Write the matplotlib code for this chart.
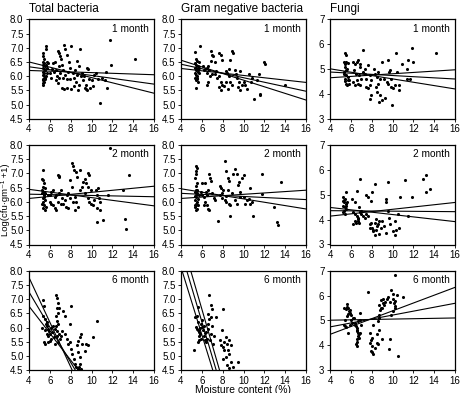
import numpy as np
import matplotlib
matplotlib.use('Agg')
import matplotlib.pyplot as plt

plt.rcParams['font.family'] = ['Liberation Sans', 'DejaVu Sans']

# ---------------------------------------------------------------------------
# DATA  (moisture %, log cfu)
# ---------------------------------------------------------------------------
tb_1m = [(5.3, 6.8), (5.35, 6.7), (5.4, 6.6), (5.3, 6.5), (5.45, 6.45), (5.35, 6.4), (5.5, 6.35),
         (5.3, 6.3), (5.4, 6.25), (5.5, 6.2), (5.35, 6.15), (5.45, 6.1), (5.3, 6.05), (5.4, 6.0),
         (5.5, 5.95), (5.35, 5.9), (5.3, 5.85), (5.4, 5.8), (5.35, 5.75), (5.3, 5.7), (5.6, 6.95),
         (5.65, 7.05), (5.7, 6.5), (5.6, 6.4), (5.75, 6.3), (5.55, 6.2), (5.7, 6.1), (5.6, 6.0),
         (5.8, 6.45), (5.5, 5.9), (6.0, 6.1), (6.1, 5.95), (6.2, 6.25), (6.3, 6.45), (6.4, 6.15),
         (6.5, 6.5), (6.6, 5.85), (6.6, 6.2), (6.8, 6.9), (6.9, 6.8), (7.0, 6.7), (6.7, 6.0),
         (6.9, 6.35), (7.0, 6.1), (6.8, 5.75), (6.9, 5.95), (7.1, 6.6), (7.2, 6.4), (7.3, 6.2),
         (7.4, 7.1), (7.5, 6.95), (7.6, 6.75), (7.3, 5.95), (7.5, 6.05), (7.6, 5.9), (7.2, 5.6),
         (7.4, 5.55), (7.6, 5.6), (7.8, 6.5), (7.9, 6.3), (8.0, 7.05), (7.7, 6.15), (7.9, 5.9),
         (8.0, 5.55), (8.2, 6.1), (8.3, 5.95), (8.4, 6.2), (8.5, 5.8), (8.6, 6.55), (8.7, 5.5),
         (8.8, 6.35), (8.9, 6.95), (8.95, 6.0), (8.8, 5.7), (8.6, 6.05), (8.3, 5.65), (9.1, 6.1),
         (9.2, 5.85), (9.4, 5.6), (9.5, 5.55), (9.6, 6.3), (9.7, 6.25), (9.5, 5.7), (9.8, 5.9),
         (9.9, 5.6), (9.6, 5.5), (10.0, 5.85), (10.1, 5.65), (9.3, 6.0), (10.2, 6.05), (10.4, 6.1),
         (10.6, 5.9), (10.8, 5.05), (11.0, 5.95), (11.3, 5.85), (11.4, 6.15), (11.5, 5.6),
         (11.75, 7.27), (11.9, 6.4), (14.15, 6.6)]

gn_1m = [(5.4, 6.62), (5.5, 6.55), (5.3, 6.45), (5.45, 6.4), (5.6, 6.35), (5.35, 6.3), (5.5, 6.25),
         (5.4, 6.2), (5.6, 6.15), (5.3, 6.1), (5.45, 6.05), (5.55, 6.0), (5.35, 5.95), (5.5, 5.9),
         (5.4, 5.85), (5.6, 5.8), (5.3, 6.85), (5.7, 6.5), (5.65, 6.2), (5.75, 6.1), (5.8, 7.05),
         (5.4, 5.6), (5.7, 6.3), (5.55, 5.95), (6.1, 6.37), (6.3, 6.25), (6.45, 6.12), (6.6, 6.37),
         (6.7, 6.2), (6.85, 6.87), (7.0, 6.75), (7.1, 6.7), (6.9, 6.55), (6.45, 5.69), (6.6, 5.81),
         (6.8, 6.0), (6.95, 6.06), (6.2, 6.2), (6.5, 6.3), (7.3, 6.5), (7.6, 6.81), (7.8, 6.75),
         (7.9, 6.56), (7.4, 6.19), (7.6, 6.0), (7.3, 6.06), (7.45, 5.94), (7.8, 5.81), (7.95, 5.69),
         (7.6, 5.62), (7.8, 5.52), (8.3, 6.19), (8.45, 6.12), (8.6, 6.25), (8.75, 6.56), (8.9, 6.87),
         (9.0, 6.81), (8.6, 6.0), (8.75, 5.81), (8.3, 5.81), (8.1, 5.65), (8.55, 5.56), (8.9, 5.69),
         (9.25, 6.06), (9.4, 5.94), (9.55, 5.81), (9.7, 6.19), (9.85, 5.69), (9.45, 5.62), (9.7, 5.5),
         (10.0, 5.81), (10.15, 5.69), (9.2, 6.2), (10.35, 5.56), (10.7, 5.81), (10.8, 5.94),
         (10.5, 6.06), (11.0, 5.19), (11.3, 5.87), (11.5, 6.06), (11.55, 5.37), (11.6, 5.33),
         (12.0, 6.5), (12.1, 6.44), (14.0, 5.69)]

fu_1m = [(5.4, 5.63), (5.5, 5.56), (5.35, 5.29), (5.55, 5.29), (5.7, 5.25), (5.4, 5.09), (5.5, 4.95),
         (5.35, 4.89), (5.55, 4.75), (5.4, 4.62), (5.7, 4.55), (5.5, 4.41), (5.6, 4.35), (5.85, 4.55),
         (5.8, 4.41), (5.3, 4.8), (5.45, 5.2), (5.6, 5.0), (5.75, 4.7), (5.4, 4.5), (6.25, 5.29),
         (6.4, 5.22), (6.55, 5.29), (6.7, 5.36), (6.85, 5.22), (6.25, 4.48), (6.4, 4.35), (6.55, 4.55),
         (6.7, 4.41), (6.85, 4.35), (6.8, 4.75), (6.5, 4.82), (7.0, 4.62), (7.2, 5.76), (6.9, 5.1),
         (6.3, 4.95), (7.2, 4.89), (7.35, 4.82), (7.5, 4.62), (7.65, 5.15), (7.5, 4.28), (7.65, 4.22),
         (7.8, 4.35), (7.95, 4.55), (7.9, 3.94), (7.85, 3.81), (7.4, 5.0), (7.8, 4.75), (8.2, 5.02),
         (8.35, 4.82), (8.5, 4.69), (8.65, 4.89), (8.8, 4.62), (8.4, 4.28), (8.55, 4.08), (8.75, 3.67),
         (8.95, 3.74), (8.8, 3.94), (8.95, 5.29), (8.6, 4.4), (9.3, 3.82), (9.45, 4.48), (9.6, 4.41),
         (9.7, 4.89), (9.75, 4.95), (9.6, 5.36), (9.9, 4.62), (9.9, 4.28), (10.05, 4.22), (9.95, 3.54),
         (9.2, 4.6), (10.2, 4.35), (10.35, 5.63), (10.4, 4.89), (10.6, 4.15), (10.65, 4.35),
         (10.9, 5.22), (11.35, 5.02), (11.5, 5.38), (11.7, 4.62), (11.85, 5.83), (12.0, 5.29),
         (11.4, 4.6), (14.2, 5.65)]

tb_2m = [(5.3, 7.12), (5.2, 6.82), (5.35, 6.77), (5.45, 6.65), (5.3, 6.53), (5.5, 6.47), (5.35, 6.35),
         (5.2, 6.3), (5.45, 6.24), (5.3, 6.12), (5.55, 6.06), (5.35, 6.0), (5.2, 5.94), (5.45, 5.88),
         (5.6, 5.82), (5.35, 5.77), (5.5, 5.7), (5.4, 6.18), (5.25, 6.4), (5.55, 6.3), (5.85, 6.24),
         (6.0, 6.24), (6.15, 6.35), (6.3, 6.41), (6.45, 6.18), (6.6, 6.24), (6.0, 6.0), (6.15, 5.94),
         (6.3, 5.88), (6.45, 5.77), (6.6, 5.7), (6.75, 6.94), (6.85, 6.88), (6.9, 6.91), (7.05, 6.41),
         (6.9, 6.3), (6.75, 6.0), (7.05, 5.94), (7.15, 6.14), (7.3, 5.94), (7.45, 6.06), (7.6, 6.24),
         (7.75, 6.3), (7.9, 6.12), (7.55, 5.82), (7.7, 5.77), (8.1, 6.53), (7.95, 6.77), (8.1, 7.35),
         (8.2, 7.25), (8.3, 7.12), (8.5, 7.06), (8.6, 6.88), (8.4, 6.18), (8.55, 6.0), (8.7, 5.82),
         (8.4, 5.7), (8.25, 6.0), (8.9, 6.41), (9.05, 6.53), (9.15, 6.7), (8.9, 7.12), (9.35, 6.82),
         (9.5, 6.65), (9.65, 6.53), (9.8, 6.94), (9.95, 6.41), (9.4, 6.3), (9.65, 6.12), (9.8, 6.0),
         (9.95, 5.94), (10.1, 5.88), (10.25, 6.06), (9.7, 7.0), (10.4, 6.41), (10.55, 6.24),
         (10.7, 6.12), (10.55, 5.77), (10.85, 6.0), (10.5, 5.3), (10.8, 5.7), (11.1, 5.36),
         (10.65, 6.47), (11.75, 7.9), (11.6, 6.24), (13.0, 6.41), (13.2, 5.4), (13.3, 5.04), (13.6, 6.95)]

gn_2m = [(5.45, 7.27), (5.5, 7.18), (5.4, 7.09), (5.45, 6.97), (5.35, 6.85), (5.5, 6.67), (5.4, 6.55),
         (5.45, 6.42), (5.3, 6.36), (5.55, 6.3), (5.4, 6.24), (5.45, 6.18), (5.35, 6.06), (5.5, 6.0),
         (5.4, 5.94), (5.45, 5.88), (5.35, 5.82), (5.5, 5.76), (5.4, 5.7), (5.6, 6.1), (5.3, 6.2),
         (5.55, 6.4), (5.6, 5.9), (5.3, 5.9), (5.75, 6.24), (5.9, 6.36), (6.05, 6.24), (6.2, 6.18),
         (6.35, 6.67), (6.4, 6.36), (6.5, 6.24), (6.6, 6.42), (6.7, 6.97), (6.75, 6.85), (6.85, 6.73),
         (6.35, 6.0), (6.5, 5.88), (6.6, 5.76), (6.7, 5.7), (6.05, 6.67), (6.2, 5.88), (7.0, 6.3),
         (7.15, 6.12), (7.3, 6.06), (7.55, 5.33), (7.7, 6.55), (7.85, 6.5), (7.7, 6.24), (7.95, 6.3),
         (8.05, 6.42), (7.95, 6.15), (8.2, 7.45), (8.35, 7.09), (8.5, 6.85), (8.65, 6.73), (8.5, 6.42),
         (8.2, 6.06), (8.35, 6.0), (8.6, 5.94), (8.75, 5.88), (8.85, 6.3), (8.7, 5.51), (8.95, 6.97),
         (8.3, 6.2), (9.2, 7.15), (9.35, 6.97), (9.5, 6.61), (9.65, 6.36), (9.2, 6.06), (9.35, 5.94),
         (9.7, 6.18), (9.85, 6.85), (10.0, 6.94), (9.6, 6.7), (10.0, 6.18), (10.15, 5.94), (10.3, 6.06),
         (10.65, 6.48), (10.65, 5.94), (10.8, 6.0), (10.95, 5.51), (10.5, 6.1), (11.8, 6.97),
         (11.8, 6.27), (12.9, 5.81), (13.2, 5.3), (13.3, 5.17), (13.6, 6.69)]

fu_2m = [(5.5, 5.1), (5.25, 4.9), (5.4, 4.83), (5.2, 4.76), (5.35, 4.7), (5.5, 4.63), (5.25, 4.56),
         (5.4, 4.49), (5.5, 4.42), (5.35, 4.36), (5.25, 4.29), (5.45, 4.22), (5.65, 4.7), (5.3, 4.8),
         (5.55, 4.55), (6.1, 4.83), (6.25, 4.29), (6.4, 4.22), (6.55, 4.15), (6.7, 4.08), (6.85, 4.29),
         (6.7, 4.02), (6.4, 3.95), (6.25, 3.81), (6.5, 3.88), (6.7, 3.95), (6.8, 3.88), (6.9, 5.64),
         (6.6, 5.17), (6.4, 4.69), (6.8, 4.49), (7.0, 4.22), (7.2, 4.15), (6.95, 4.35), (7.35, 4.08),
         (7.5, 4.22), (7.65, 4.15), (7.8, 3.81), (7.95, 3.88), (7.85, 3.68), (7.5, 4.97), (7.95, 4.76),
         (8.05, 5.1), (7.65, 4.9), (8.0, 3.68), (8.15, 3.54), (8.3, 3.4), (8.45, 3.6), (8.6, 3.81),
         (8.3, 3.88), (8.4, 4.02), (8.5, 3.74), (8.75, 3.95), (8.9, 3.68), (8.7, 3.43), (8.3, 5.44),
         (8.1, 3.6), (9.0, 3.95), (9.2, 3.74), (9.35, 3.47), (9.4, 4.69), (9.6, 4.36), (9.6, 5.51),
         (9.4, 4.83), (9.8, 3.81), (9.65, 4.08), (10.0, 3.54), (10.2, 3.95), (10.3, 3.6), (10.5, 4.22),
         (10.7, 4.9), (10.2, 3.38), (10.6, 3.66), (11.2, 5.58), (11.5, 4.15), (11.85, 4.9),
         (12.95, 5.64), (13.2, 5.78), (13.2, 5.1), (13.6, 5.24)]

tb_6m = [(5.37, 6.98), (5.45, 6.75), (5.3, 6.41), (5.2, 6.0), (5.5, 6.3), (5.6, 6.13), (5.7, 6.07),
         (5.75, 6.18), (5.85, 5.95), (5.55, 5.9), (5.7, 5.77), (5.85, 5.72), (5.45, 5.48), (5.5, 5.42),
         (5.85, 5.48), (6.0, 5.52), (6.15, 5.6), (6.05, 5.77), (5.95, 5.88), (6.15, 6.0), (6.3, 6.07),
         (6.45, 5.95), (6.25, 5.83), (6.4, 5.66), (6.6, 7.16), (6.7, 7.04), (6.8, 6.87), (6.65, 6.7),
         (6.9, 6.7), (6.8, 6.52), (6.6, 6.41), (6.65, 6.23), (6.8, 6.12), (6.6, 6.06), (6.7, 5.89),
         (6.9, 5.77), (6.65, 5.71), (6.5, 5.42), (6.8, 5.48), (6.95, 5.6), (7.1, 5.71), (7.2, 5.89),
         (7.45, 6.41), (7.3, 6.58), (7.45, 5.77), (7.6, 5.6), (7.75, 5.43), (7.9, 6.14), (8.0, 6.75),
         (7.9, 5.48), (8.05, 5.25), (8.15, 5.08), (8.3, 4.9), (8.4, 4.72), (8.55, 4.62), (8.6, 5.37),
         (8.7, 5.54), (8.85, 5.66), (9.0, 5.77), (8.75, 5.13), (8.9, 4.96), (8.85, 4.72), (9.0, 4.55),
         (8.7, 4.55), (8.8, 4.6), (9.1, 5.42), (9.35, 5.19), (9.5, 5.43), (9.7, 5.37), (10.16, 5.66),
         (10.55, 6.23)]

gn_6m = [(5.28, 5.2), (5.38, 6.37), (5.6, 6.72), (5.45, 6.02), (5.55, 5.96), (5.6, 5.9), (5.7, 5.84),
         (5.75, 5.72), (5.85, 5.78), (5.6, 5.49), (5.75, 5.55), (5.9, 5.61), (5.65, 6.2), (5.9, 6.13),
         (6.05, 6.25), (6.05, 6.02), (6.15, 5.9), (6.2, 5.72), (6.3, 5.55), (6.4, 5.49), (6.5, 5.61),
         (6.4, 5.84), (6.55, 5.96), (6.6, 6.13), (6.7, 6.31), (6.55, 6.49), (6.72, 7.13), (6.88, 6.78),
         (6.95, 6.66), (6.88, 6.37), (6.95, 6.07), (6.88, 5.78), (6.8, 5.55), (7.05, 5.43), (7.2, 5.72),
         (7.35, 6.37), (8.0, 6.66), (7.9, 5.9), (7.7, 5.55), (7.85, 5.37), (8.0, 5.32), (8.1, 5.2),
         (8.15, 5.49), (8.3, 5.66), (8.45, 5.43), (8.6, 5.55), (8.8, 5.37), (8.55, 5.2), (8.65, 5.08),
         (8.3, 4.97), (8.45, 4.67), (8.6, 4.56), (8.8, 4.79), (8.95, 4.6), (9.5, 4.8), (8.0, 4.9),
         (5.5, 6.4), (5.8, 6.0), (6.2, 6.05), (6.3, 5.8)]

fu_6m = [(5.6, 5.65), (5.65, 5.56), (5.75, 5.5), (5.5, 5.48), (5.9, 5.43), (5.85, 5.36), (5.95, 5.3),
         (5.75, 5.26), (6.05, 5.23), (5.6, 5.16), (5.3, 5.52), (5.45, 5.03), (5.3, 4.8), (5.4, 4.77),
         (5.55, 4.73), (5.7, 4.48), (5.9, 4.83), (6.05, 5.03), (6.2, 5.1), (6.15, 4.9), (6.3, 5.1),
         (6.4, 4.81), (6.5, 4.77), (6.55, 4.7), (6.6, 4.6), (6.7, 4.51), (6.8, 4.44), (6.85, 4.51),
         (6.7, 4.38), (6.6, 4.25), (6.55, 4.15), (6.5, 4.05), (6.6, 3.98), (6.85, 5.3), (6.85, 5.03),
         (7.0, 4.83), (6.7, 4.97), (6.4, 4.9), (6.55, 4.57), (6.75, 4.31), (7.68, 6.15), (7.85, 4.11),
         (7.9, 4.2), (8.0, 4.31), (7.85, 4.5), (8.0, 3.98), (8.0, 3.72), (7.9, 3.78), (8.15, 3.66),
         (8.1, 4.83), (8.3, 3.89), (8.5, 4.44), (8.55, 4.11), (8.6, 4.97), (8.7, 5.1), (8.75, 5.23),
         (8.8, 5.43), (8.9, 5.5), (8.7, 5.62), (8.9, 5.82), (9.05, 5.88), (9.1, 5.69), (8.95, 5.49),
         (9.2, 5.62), (9.3, 5.75), (9.45, 5.88), (8.75, 4.6), (8.96, 4.25), (8.6, 4.05), (9.6, 5.95),
         (9.75, 5.75), (9.9, 6.21), (10.0, 6.08), (10.05, 5.88), (10.1, 5.69), (10.2, 5.49),
         (10.05, 5.36), (9.9, 5.23), (9.75, 4.25), (9.65, 3.85), (10.2, 6.83), (10.4, 6.02),
         (10.56, 3.59), (11.04, 5.95), (10.2, 5.8), (10.25, 5.6)]

# regression line + slope-CI lines: (y at x=4, y at x=16)
lines_tb_1m = [(6.50, 5.40), (6.33, 5.72), (6.20, 6.05)]
lines_gn_1m = [(6.56, 5.16), (6.42, 5.47), (6.27, 5.78)]
lines_fu_1m = [(5.01, 4.20), (4.88, 4.60), (4.65, 4.97)]
lines_tb_2m = [(6.44, 5.86), (6.27, 6.18), (6.12, 6.55)]
lines_gn_2m = [(6.46, 5.75), (6.30, 6.08), (6.12, 6.41)]
lines_fu_2m = [(4.49, 3.92), (4.36, 4.32), (4.14, 4.69)]
lines_tb_6m = [(7.76, -1.67), (7.25, -0.17), (6.75, 1.06)]
lines_gn_6m = [(8.12, -6.11), (8.68, -6.16), (9.18, -5.99)]
lines_fu_6m = [(4.44, 6.33), (4.74, 5.69), (5.01, 5.10)]

titles = ['Total bacteria', 'Gram negative bacteria', 'Fungi']
months = ['1 month', '2 month', '6 month']

points = [[tb_1m, gn_1m, fu_1m], [tb_2m, gn_2m, fu_2m], [tb_6m, gn_6m, fu_6m]]
lines = [[lines_tb_1m, lines_gn_1m, lines_fu_1m],
         [lines_tb_2m, lines_gn_2m, lines_fu_2m],
         [lines_tb_6m, lines_gn_6m, lines_fu_6m]]

# ---------------------------------------------------------------------------
# FIGURE
# ---------------------------------------------------------------------------
W, H = 462, 393
fig = plt.figure(figsize=(W / 100, H / 100), dpi=100)

col_left = [29, 181, 330]
row_top = [19.3, 145, 270.7]
aw, ah = 125, 99.5

for r in range(3):
    for c in range(3):
        ax = fig.add_axes([col_left[c] / W, 1 - (row_top[r] + ah) / H, aw / W, ah / H])
        pts = np.array(points[r][c])
        ax.scatter(pts[:, 0], pts[:, 1], s=5, color='black', lw=0, zorder=3)
        for y4, y16 in lines[r][c]:
            ax.plot([4, 16], [y4, y16], color='black', lw=0.8, zorder=2)

        ax.set_xlim(4, 16)
        ax.set_xticks(np.arange(4, 17, 2))
        if c < 2:
            ax.set_ylim(4.5, 8.0)
            ax.set_yticks(np.arange(4.5, 8.01, 0.5))
            ax.set_yticklabels([f'{v:.1f}' for v in np.arange(4.5, 8.01, 0.5)])
        else:
            ax.set_ylim(3, 7)
            ax.set_yticks(np.arange(3, 8, 1))
        ax.tick_params(labelsize=7, length=2.5, width=0.6, pad=1.5, direction='out')
        for sp in ax.spines.values():
            sp.set_linewidth(0.9)
        ax.text(0.96, 0.955, months[r], transform=ax.transAxes, ha='right', va='top',
                fontsize=7.3)
        if r == 0:
            ax.text(0.0, 1.04, titles[c], transform=ax.transAxes, ha='left',
                    va='bottom', fontsize=8.5)

fig.text(0.5 / W, 1 - 200 / H, 'Log(cfu·gm⁻¹ +1)', rotation=90, ha='left',
         va='center', fontsize=6.8)
fig.text(243 / W, 1 - 390 / H, 'Moisture content (%)', ha='center', va='center',
         fontsize=7.5)

fig.savefig('out.png', dpi=100)
